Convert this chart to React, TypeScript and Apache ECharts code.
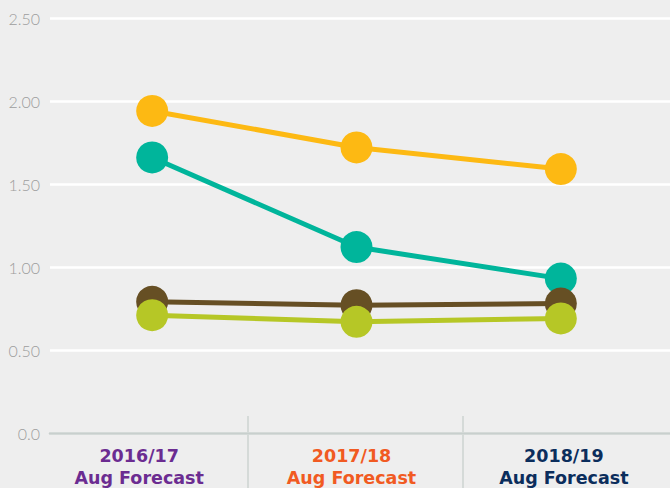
import React, { useEffect, useRef } from "react";
import * as echarts from "echarts";

const categories = ["2016/17", "2017/18", "2018/19"];
const subLabel = "Aug Forecast";
const categoryColors = ["#6b2c91", "#f15a22", "#0b2d5c"];
const yTicks = [0, 0.5, 1.0, 1.5, 2.0, 2.5];

const seriesYellow = [1.94, 1.72, 1.59];
const seriesTeal = [1.66, 1.12, 0.93];
const seriesBrown = [0.79, 0.77, 0.78];
const seriesLime = [0.71, 0.67, 0.69];

const seriesDefs = [
  { name: "Yellow", data: seriesYellow, color: "#fdb913" },
  { name: "Teal", data: seriesTeal, color: "#00b59b" },
  { name: "Brown", data: seriesBrown, color: "#664f24" },
  { name: "Lime", data: seriesLime, color: "#b6c726" },
];

export default function App() {
  const ref = useRef<HTMLDivElement>(null);
  useEffect(() => {
    if (!ref.current) return;
    const chart = echarts.init(ref.current, null, { renderer: "svg" });
    const rich: any = {};
    categoryColors.forEach((c, i) => {
      rich["c" + i] = {
        color: c,
        fontSize: 17.5,
        fontWeight: "bold",
        fontFamily: "DejaVu Sans",
        lineHeight: 22,
        align: "center",
      };
    });
    const hiddenY = (gridIndex: number) => ({
      type: "value",
      gridIndex,
      min: yTicks[0],
      max: yTicks[yTicks.length - 1],
      interval: 0.5,
      show: false,
    });
    chart.setOption({
      animation: false,
      backgroundColor: "#eeeeee",
      grid: [
        { left: 50, right: 0, top: 18, bottom: 55 },
        { left: 50, right: 7, top: 18, bottom: 55 },
        { left: 33, right: -8, top: 18, bottom: 55 },
      ],
      xAxis: [
        {
          type: "category",
          gridIndex: 0,
          data: categories,
          axisLine: { show: true, lineStyle: { color: "#c8cfcd", width: 2.5 } },
          axisTick: { show: false },
          axisLabel: { show: false },
        },
        {
          type: "category",
          gridIndex: 1,
          data: categories,
          show: false,
        },
        {
          type: "category",
          gridIndex: 2,
          data: categories,
          axisLine: { show: false },
          axisTick: { show: false },
          axisLabel: {
            margin: 12,
            formatter: (v: string, i: number) =>
              `{c${i}|${v}}\n{c${i}|${subLabel}}`,
            rich,
          },
        },
      ],
      yAxis: [
        {
          type: "value",
          gridIndex: 0,
          min: yTicks[0],
          max: yTicks[yTicks.length - 1],
          interval: 0.5,
          axisLine: { show: false },
          axisTick: { show: false },
          splitLine: { lineStyle: { color: "#ffffff", width: 2.5 } },
          axisLabel: {
            margin: 10,
            color: "#9d9d9d",
            fontSize: 16,
            fontFamily: "Lato",
            fontWeight: 300,
            formatter: (v: number) => (v === 0 ? "0.0" : v.toFixed(2)),
          },
        },
        hiddenY(1),
        hiddenY(2),
      ],
      graphic: [
        {
          type: "line",
          shape: { x1: 248, y1: 416, x2: 248, y2: 488 },
          style: { stroke: "#cdd3d1", lineWidth: 1.5 },
          z: 0,
        },
        {
          type: "line",
          shape: { x1: 463, y1: 416, x2: 463, y2: 488 },
          style: { stroke: "#cdd3d1", lineWidth: 1.5 },
          z: 0,
        },
      ],
      series: seriesDefs.map((s) => ({
        name: s.name,
        type: "line",
        xAxisIndex: 1,
        yAxisIndex: 1,
        data: s.data,
        symbol: "circle",
        symbolSize: 32,
        lineStyle: { color: s.color, width: 5 },
        itemStyle: { color: s.color },
        emphasis: { disabled: true },
      })),
    });
    return () => chart.dispose();
  }, []);
  return (
    <div
      ref={ref}
      style={{ position: "absolute", left: 0, top: 0, width: 670, height: 488 }}
    />
  );
}
